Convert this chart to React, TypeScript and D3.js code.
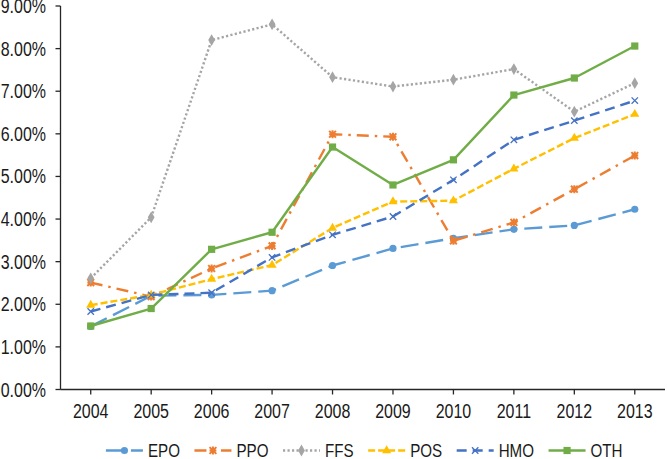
import React from "react";
import * as d3 from "d3";

const years = ["2004", "2005", "2006", "2007", "2008", "2009", "2010", "2011", "2012", "2013"];
const seriesNames = ["EPO", "PPO", "FFS", "POS", "HMO", "OTH"];
const EPO = [1.48, 2.2, 2.22, 2.32, 2.91, 3.31, 3.55, 3.76, 3.85, 4.23];
const PPO = [2.51, 2.18, 2.84, 3.37, 5.99, 5.93, 3.49, 3.92, 4.7, 5.49];
const FFS = [2.61, 4.04, 8.2, 8.57, 7.33, 7.11, 7.27, 7.52, 6.52, 7.19];
const POS = [1.98, 2.22, 2.59, 2.92, 3.79, 4.41, 4.43, 5.18, 5.9, 6.46];
const HMO = [1.83, 2.22, 2.27, 3.1, 3.63, 4.06, 4.92, 5.86, 6.31, 6.78];
const OTH = [1.49, 1.9, 3.29, 3.69, 5.69, 4.8, 5.39, 6.91, 7.31, 8.06];
const yTicks = [0, 1, 2, 3, 4, 5, 6, 7, 8, 9];

const seriesValues = [EPO, PPO, FFS, POS, HMO, OTH];
const colors = ["#5B9BD5", "#ED7D31", "#A5A5A5", "#FFC000", "#4472C4", "#70AD47"];
const dashes = ["18 7", "12 6 2.5 6", "2.2 2.3", "7 3", "10 6", "none"];
const markers = ["circle", "star", "diamond", "triangle", "x", "square"];

const W = 667;
const H = 459;
const FONT = "'Liberation Sans', Arial, sans-serif";
const SX = 0.82;
const M = { left: 60.5, right: 665, top: 6, bottom: 389.5 };

function Marker({ type, x, y, color }: { type: string; x: number; y: number; color: string }) {
  if (type === "circle") return <circle cx={x} cy={y} r={3.6} fill={color} />;
  if (type === "square") return <rect x={x - 3.6} y={y - 3.6} width={7.2} height={7.2} fill={color} />;
  if (type === "diamond") {
    const p = d3.symbol(d3.symbolDiamond, 40)();
    return <path d={p || ""} transform={`translate(${x},${y})`} fill={color} />;
  }
  if (type === "triangle") {
    const p = d3.symbol(d3.symbolTriangle, 36)();
    return <path d={p || ""} transform={`translate(${x},${y})`} fill={color} />;
  }
  if (type === "x") {
    const s = 3.2;
    return (
      <path
        d={`M${x - s},${y - s}L${x + s},${y + s}M${x - s},${y + s}L${x + s},${y - s}`}
        stroke={color}
        strokeWidth={1.3}
        fill="none"
      />
    );
  }
  const s = 3.4;
  return (
    <path
      d={`M${x - s},${y - s}L${x + s},${y + s}M${x - s},${y + s}L${x + s},${y - s}M${x},${y - s - 0.6}L${x},${y + s + 0.6}M${x - s},${y}L${x + s},${y}`}
      stroke={color}
      strokeWidth={2}
      fill="none"
    />
  );
}

function measure(text: string, size: number): number {
  if (typeof document === "undefined") return text.length * size * 0.5 * SX;
  const c = document.createElement("canvas");
  const ctx = c.getContext("2d");
  if (!ctx) return text.length * size * 0.5 * SX;
  ctx.font = `${size}px ${FONT}`;
  return ctx.measureText(text).width * SX;
}

function NText({
  x,
  y,
  anchor,
  size,
  children,
}: {
  x: number;
  y: number;
  anchor: "start" | "middle" | "end";
  size: number;
  children: React.ReactNode;
}) {
  return (
    <text
      transform={`translate(${x},${y}) scale(${SX},1)`}
      textAnchor={anchor}
      fontSize={size}
      fill="#1a1a1a"
    >
      {children}
    </text>
  );
}

export default function App() {
  const x = d3.scaleBand<string>().domain(years).range([M.left, M.right]);
  const y = d3.scaleLinear().domain([0, 9]).range([M.bottom, M.top]);
  const cx = (yr: string) => (x(yr) ?? 0) + x.bandwidth() / 2;
  const line = d3
    .line<number>()
    .x((_, i) => cx(years[i]))
    .y((v) => y(v));

  const legendFont = 18.5;
  const sampleW = 37;
  const textGap = 5;
  const itemGap = 14.5;
  const widths = seriesNames.map((n) => sampleW + textGap + measure(n, legendFont));
  const total = widths.reduce((a, b) => a + b, 0) + itemGap * (seriesNames.length - 1);
  let lx = (M.left + M.right) / 2 + 1.5 - total / 2;
  const legendStarts: number[] = [];
  widths.forEach((w) => {
    legendStarts.push(lx);
    lx += w + itemGap;
  });
  const legendY = 450.5;

  return (
    <svg
      width={W}
      height={H}
      style={{ position: "absolute", left: 0, top: 0, background: "#fff" }}
      fontFamily={FONT}
    >
      <rect x={0} y={0} width={W} height={H} fill="#fff" />
      <line x1={M.left} x2={M.left} y1={M.top} y2={M.bottom} stroke="#262626" strokeWidth={1.3} />
      {yTicks.map((t) => (
        <g key={t}>
          <line x1={M.left - 5} x2={M.left} y1={y(t)} y2={y(t)} stroke="#262626" strokeWidth={1.3} />
          <NText x={46} y={y(t) + 7} anchor="end" size={19.5}>
            {t.toFixed(2) + "%"}
          </NText>
        </g>
      ))}
      <line x1={M.left} x2={M.right} y1={M.bottom} y2={M.bottom} stroke="#262626" strokeWidth={1.3} />
      {years.map((yr) => (
        <g key={yr}>
          <line x1={cx(yr)} x2={cx(yr)} y1={M.bottom} y2={M.bottom + 5} stroke="#262626" strokeWidth={1.3} />
          <NText x={cx(yr)} y={418} anchor="middle" size={19.5}>
            {yr}
          </NText>
        </g>
      ))}
      {seriesValues.map((vals, si) => (
        <g key={seriesNames[si]}>
          <path
            d={line(vals) || ""}
            fill="none"
            stroke={colors[si]}
            strokeWidth={2.4}
            strokeDasharray={dashes[si]}
            strokeLinejoin="round"
          />
          {vals.map((v, i) => (
            <Marker key={i} type={markers[si]} x={cx(years[i])} y={y(v)} color={colors[si]} />
          ))}
        </g>
      ))}
      {seriesNames.map((n, si) => {
        const sx = legendStarts[si];
        return (
          <g key={n}>
            <line
              x1={sx}
              x2={sx + sampleW}
              y1={legendY}
              y2={legendY}
              stroke={colors[si]}
              strokeWidth={2.4}
              strokeDasharray={dashes[si]}
            />
            <Marker type={markers[si]} x={sx + sampleW / 2} y={legendY} color={colors[si]} />
            <NText x={sx + sampleW + textGap} y={legendY + 6.5} anchor="start" size={legendFont}>
              {n}
            </NText>
          </g>
        );
      })}
    </svg>
  );
}
